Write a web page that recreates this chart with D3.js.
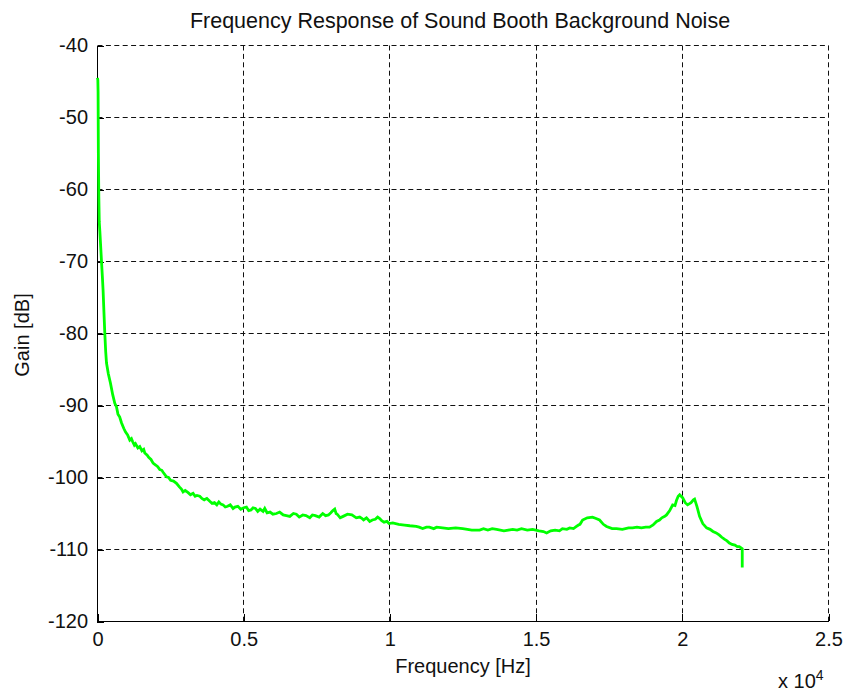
<!DOCTYPE html>
<html>
<head>
<meta charset="utf-8">
<script src="https://cdn.jsdelivr.net/npm/d3@7"></script>
<style>
  body { margin: 0; background: #fff; }
  svg { display: block; font-family: Arial, "Liberation Sans", sans-serif; }
</style>
</head>
<body>
<svg id="chart"></svg>
<script>
// data
const freqHz = [0, 12, 20, 30, 45, 60, 79, 110, 137, 165, 191, 220, 250, 280, 308, 370, 444, 520, 591, 650, 700,
  760, 820, 900, 960, 1030, 1104, 1160, 1200, 1260, 1300, 1380, 1446, 1520, 1580, 1617, 1700, 1750, 1830, 1901,
  2000, 2060, 2130, 2200, 2250, 2359, 2430, 2500, 2600, 2701, 2800, 2870, 2927, 3000, 3100, 3180, 3269, 3340,
  3400, 3498, 3570, 3650, 3740, 3840, 3920, 4000, 4080, 4150, 4220, 4294, 4370, 4450, 4540, 4636, 4700, 4800,
  4900, 5000, 5094, 5170, 5250, 5320, 5400, 5480, 5560, 5662, 5720, 5800, 5900, 6000, 6120, 6230, 6350, 6460,
  6576, 6700, 6800, 6900, 7019, 7130, 7259, 7350, 7450, 7580, 7703, 7800, 7900, 7980, 8050, 8113, 8160, 8200,
  8300, 8400, 8550, 8700, 8850, 8968, 9050, 9100, 9200, 9310, 9400, 9500, 9580, 9652, 9720, 9800, 9900, 9970,
  10100, 10300, 10500, 10680, 10900, 11000, 11120, 11250, 11350, 11500, 11600, 11800, 12000, 12250, 12490,
  12650, 12800, 13070, 13200, 13350, 13500, 13650, 13900, 14050, 14200, 14350, 14500, 14700, 14880, 15100,
  15250, 15360, 15500, 15650, 15800, 15900, 16050, 16150, 16280, 16380, 16450, 16500, 16590, 16750, 16930,
  17050, 17170, 17300, 17410, 17600, 17750, 17950, 18160, 18300, 18450, 18600, 18750, 18880, 19000, 19120,
  19220, 19300, 19400, 19460, 19570, 19670, 19750, 19800, 19860, 19910, 19960, 20010, 20100, 20180, 20300,
  20380, 20420, 20500, 20590, 20700, 20830, 20950, 21050, 21160, 21270, 21350, 21450, 21530, 21610, 21700,
  21800, 21880, 21950, 22050, 22050];
const gainDb = [-44.5, -44.8, -46.5, -55, -61, -64.5, -65.7, -68, -70, -72, -74, -77, -80, -82.5, -84.1, -85.6,
  -86.9, -88.5, -89.7, -90.2, -91.2, -91.6, -92.4, -93.2, -93.7, -94.1, -94.8, -94.6, -95.0, -95.5, -95.3,
  -95.9, -95.7, -96.3, -96.1, -96.6, -96.9, -97.2, -97.5, -98.0, -98.3, -98.5, -98.9, -99.0, -99.3, -99.9,
  -100.0, -100.4, -100.5, -100.8, -101.3, -101.6, -102.0, -101.8, -102.1, -102.4, -102.2, -102.6, -102.5,
  -102.6, -102.9, -103.1, -102.9, -103.3, -103.6, -103.5, -103.8, -103.4, -103.7, -103.8, -104.1, -104.0,
  -103.8, -104.3, -104.1, -104.0, -104.4, -104.2, -104.1, -104.6, -104.5, -104.2, -104.3, -104.7, -104.4,
  -104.7, -104.3, -104.9, -104.8, -105.1, -105.0, -104.8, -105.2, -105.3, -105.4, -105.0, -105.1, -105.5,
  -105.2, -105.3, -105.6, -105.2, -105.3, -105.5, -105.0, -105.3, -105.2, -104.9, -104.6, -104.4, -105.0,
  -105.1, -105.6, -105.4, -105.1, -105.2, -105.6, -105.5, -105.7, -105.9, -105.6, -106.1, -105.9, -105.8,
  -105.5, -105.7, -106.0, -106.2, -106.1, -106.4, -106.3, -106.5, -106.6, -106.7, -106.8, -106.9, -107.1,
  -106.9, -106.9, -107.1, -106.9, -107.0, -107.1, -107.0, -107.1, -107.2, -107.3, -107.3, -107.1, -107.3,
  -107.1, -107.2, -107.4, -107.3, -107.2, -107.3, -107.1, -107.3, -107.2, -107.4, -107.5, -107.7, -107.4,
  -107.3, -107.4, -107.1, -107.2, -107.0, -107.1, -106.8, -106.6, -106.5, -105.9, -105.6, -105.5, -105.7,
  -105.9, -106.5, -106.8, -107.1, -107.1, -107.2, -107.0, -107.0, -106.9, -107.0, -106.9, -106.9, -106.6,
  -106.1, -105.9, -105.6, -105.4, -105.2, -104.6, -103.8, -103.9, -103.2, -102.6, -102.4, -102.6, -102.8,
  -103.5, -103.8, -103.5, -103.1, -103.0, -104.0, -105.4, -106.4, -107.0, -107.2, -107.5, -107.7, -108.0,
  -108.3, -108.6, -108.8, -109.1, -109.3, -109.4, -109.6, -109.6, -109.9, -112.5];

const xTicks = [0, 5000, 10000, 15000, 20000, 25000];
const xTickLabels = ['0', '0.5', '1', '1.5', '2', '2.5'];
const yTicks = [-120, -110, -100, -90, -80, -70, -60, -50, -40];

const width = 844;
const height = 692;

const svg = d3.select('#chart')
  .attr('width', width)
  .attr('height', height);

const x = d3.scaleLinear().domain([0, 25000]).range([97.5, 828.5]);
const y = d3.scaleLinear().domain([-120, -40]).range([621.5, 45.5]);

// snap to the pixel grid so every dashed line is 1px wide
const px = v => Math.floor(v) + 0.5;

// dashed grid (box off, so top and right are grid lines too)
const grid = svg.append('g')
  .attr('stroke', '#111')
  .attr('stroke-width', 1)
  .attr('stroke-dasharray', '5,3.4');

grid.selectAll('.gx')
  .data(xTicks.filter(d => d > 0))
  .enter().append('line')
  .attr('x1', d => px(x(d))).attr('x2', d => px(x(d)))
  .attr('y1', px(y(-40))).attr('y2', px(y(-120)));

grid.selectAll('.gy')
  .data(yTicks.filter(d => d > -120))
  .enter().append('line')
  .attr('x1', px(x(0))).attr('x2', px(x(25000)))
  .attr('y1', d => px(y(d))).attr('y2', d => px(y(d)));

// axes, ticks pointing inward
const xAxis = d3.axisBottom(x)
  .tickValues(xTicks)
  .tickFormat((d, i) => xTickLabels[i])
  .tickSizeInner(-7)
  .tickSizeOuter(0)
  .tickPadding(11);

const yAxis = d3.axisLeft(y)
  .tickValues(yTicks)
  .tickFormat(d => d)
  .tickSizeInner(-7)
  .tickSizeOuter(0)
  .tickPadding(9);

const gx = svg.append('g')
  .attr('transform', `translate(0,${y(-120) - 0.5})`)
  .call(xAxis);

const gy = svg.append('g')
  .attr('transform', `translate(${x(0) - 0.5},0)`)
  .call(yAxis);

[gx, gy].forEach(g => {
  g.attr('font-size', 20).attr('font-family', null);
  g.select('.domain').attr('stroke', '#000');
  g.selectAll('.tick line').attr('stroke', '#000').attr('shape-rendering', 'crispEdges');
  g.selectAll('.tick text').attr('fill', '#111');
});

// the green trace
const line = d3.line()
  .x((d, i) => x(freqHz[i]))
  .y(d => y(d));

svg.append('path')
  .datum(gainDb)
  .attr('fill', 'none')
  .attr('stroke', '#00ff00')
  .attr('stroke-width', 2.8)
  .attr('stroke-linejoin', 'miter')
  .attr('d', line);

// texts
svg.append('text')
  .attr('x', 460)
  .attr('y', 28)
  .attr('text-anchor', 'middle')
  .attr('font-size', 21.5)
  .attr('fill', '#111')
  .text('Frequency Response of Sound Booth Background Noise');

svg.append('text')
  .attr('x', 463)
  .attr('y', 673)
  .attr('text-anchor', 'middle')
  .attr('font-size', 20)
  .attr('fill', '#111')
  .text('Frequency [Hz]');

svg.append('text')
  .attr('transform', 'translate(29,335) rotate(-90)')
  .attr('text-anchor', 'middle')
  .attr('font-size', 20)
  .attr('fill', '#111')
  .text('Gain [dB]');

const expo = svg.append('text')
  .attr('x', 778)
  .attr('y', 688)
  .attr('font-size', 20)
  .attr('fill', '#111');
expo.append('tspan').text('x 10');
expo.append('tspan')
  .attr('font-size', 14)
  .attr('dy', -8)
  .text('4');
</script>
</body>
</html>
